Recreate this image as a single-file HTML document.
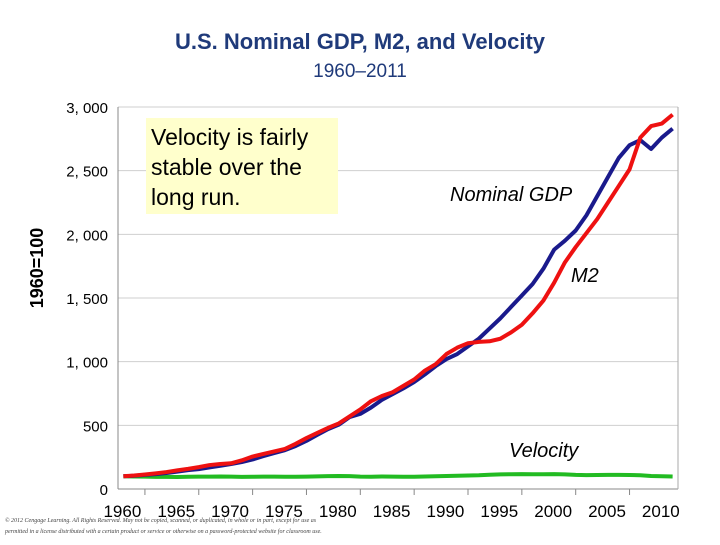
<!DOCTYPE html>
<html><head><meta charset="utf-8"><style>
body{margin:0;background:#fff;width:720px;height:540px;overflow:hidden;font-family:"Liberation Sans",sans-serif}
</style></head><body>
<svg width="720" height="540" xmlns="http://www.w3.org/2000/svg">
<text x="360" y="49" text-anchor="middle" font-size="22" font-weight="bold" fill="#1f3a7a">U.S. Nominal GDP, M2, and Velocity</text>
<text x="360" y="77" text-anchor="middle" font-size="19" fill="#1f3a7a">1960–2011</text>
<text transform="translate(43,268) rotate(-90)" text-anchor="middle" font-size="18" font-weight="bold" fill="#000">1960=100</text>
<g id="grid"></g>
<g id="yt"></g>
<g id="xt"></g>
<g id="lines"></g>
<rect x="146" y="118" width="192" height="96" fill="#ffffcc"/>
<text font-size="23" fill="#000"><tspan x="151" y="145">Velocity is fairly</tspan><tspan x="151" y="175">stable over the</tspan><tspan x="151" y="205">long run.</tspan></text>
<text x="450" y="201" font-size="20" font-style="italic">Nominal GDP</text>
<text x="571" y="282" font-size="20" font-style="italic">M2</text>
<text x="509" y="457" font-size="20" font-style="italic">Velocity</text>
<text font-size="6" font-style="italic" font-family="Liberation Serif,serif" fill="#444"><tspan x="5" y="522">© 2012 Cengage Learning. All Rights Reserved. May not be copied, scanned, or duplicated, in whole or in part, except for use as</tspan><tspan x="5" y="533">permitted in a license distributed with a certain product or service or otherwise on a password-protected website for classroom use.</tspan></text>
</svg>
<script>
const years=[];for(let y=1960;y<=2011;y++)years.push(y);
const gdp=[100,104,111,117,126,136,148,156,170,182,196,212,232,258,282,305,338,378,425,470,505,565,590,640,700,745,790,840,900,965,1020,1060,1120,1180,1260,1340,1430,1520,1610,1730,1880,1950,2030,2150,2300,2450,2600,2700,2740,2670,2760,2830];
const m2=[100,106,114,123,133,146,158,172,188,196,202,225,255,275,295,315,355,400,440,480,515,570,625,690,730,760,810,860,930,980,1060,1110,1145,1155,1160,1180,1230,1290,1380,1480,1620,1780,1900,2010,2120,2250,2380,2510,2760,2850,2870,2940];
const vel=[100,98,97,95,95,94,96,97,97,98,97,95,96,97,97,96,96,97,99,101,102,101,97,96,98,97,96,96,98,100,102,104,106,108,112,115,116,117,116,116,117,115,111,109,110,111,111,110,108,102,100,98];
const yTicks=[0,500,1000,1500,2000,2500,3000];
const yLabels=["0","500","1, 000","1, 500","2, 000","2, 500","3, 000"];
const xLabels=[1960,1965,1970,1975,1980,1985,1990,1995,2000,2005,2010];
const L=118,R=678,T=107,B=489,ns="http://www.w3.org/2000/svg";
const step=(R-L)/52;
const X=y=>L+(y-1960+0.5)*step, Y=v=>B-(v/3000)*(B-T);
function mk(t,a,p){const e=document.createElementNS(ns,t);for(const k in a)e.setAttribute(k,a[k]);p.appendChild(e);return e;}
const g=document.getElementById('grid'),yt=document.getElementById('yt'),xt=document.getElementById('xt'),ln=document.getElementById('lines');
yTicks.forEach((v,i)=>{
 const l=mk('line',{x1:L,x2:R,y1:Y(v),y2:Y(v),stroke:v?'#cfcfcf':'#888','stroke-width':1},g);
 
 
 const t=mk('text',{x:L-10,y:Y(v)+6,'text-anchor':'end','font-size':15},yt);t.textContent=yLabels[i];
 
 
});
mk('line',{x1:L,x2:L,y1:T,y2:B,stroke:'#888'},g);
mk('line',{x1:R,x2:R,y1:T,y2:B,stroke:'#aaa'},g);
for(let k=0;k<10;k++){const x=L+(2.5+5*k)*step;mk('line',{x1:x,x2:x,y1:B,y2:B+6,stroke:'#888'},xt);}
xLabels.forEach(y=>{const t=mk('text',{x:X(y)-1,y:B+28,'text-anchor':'middle','font-size':17},xt);t.textContent=y;
 
 });
function line(arr,c,name){const p=mk('polyline',{points:arr.map((v,i)=>X(years[i])+','+Y(v)).join(' '),fill:'none',stroke:c,'stroke-width':4,'stroke-linejoin':'round'},ln);
 
 }
line(vel,'#22bb22','velocity-line');
line(gdp,'#1a1a8c','nominal-gdp-line');
line(m2,'#ee1111','m2-line');
</script>
</body></html>
